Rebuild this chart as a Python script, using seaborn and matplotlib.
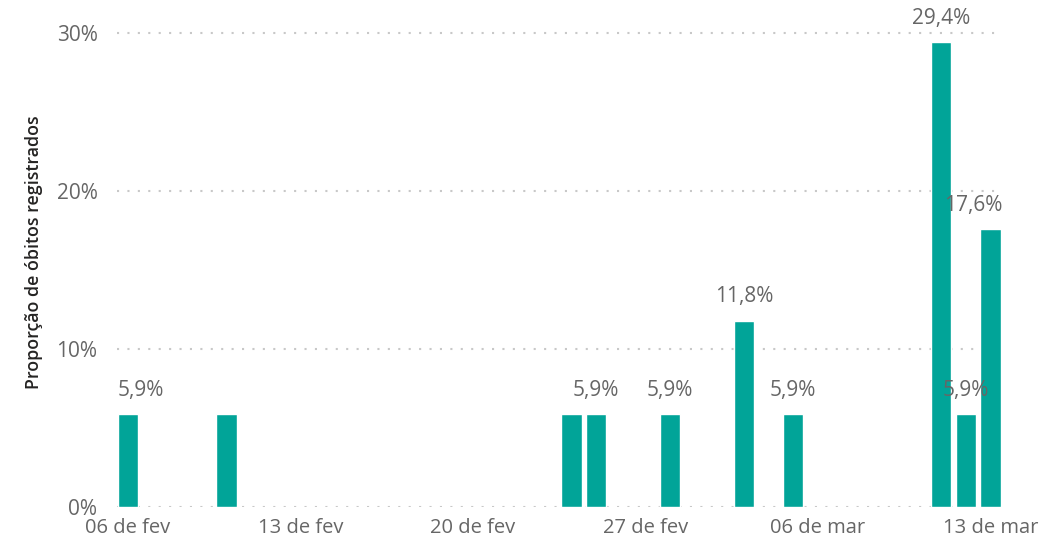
import pandas as pd
import numpy as np
import seaborn as sns
import matplotlib
matplotlib.use('Agg')
import matplotlib.pyplot as plt
import matplotlib.dates as mdates

# dates with recorded deaths and the share of each (in %)
datas = ["2021-02-06", "2021-02-10", "2021-02-24", "2021-02-25", "2021-02-28",
         "2021-03-03", "2021-03-05", "2021-03-11", "2021-03-12", "2021-03-13"]
proporcao = [5.9, 5.9, 5.9, 5.9, 5.9, 11.8, 5.9, 29.4, 5.9, 17.6]
# which bars get a data label (the others were hidden in the original)
mostrar_rotulo = [True, False, False, True, True, True, True, True, True, True]

# x axis ticks
tick_datas = ["2021-02-06", "2021-02-13", "2021-02-20", "2021-02-27", "2021-03-06", "2021-03-13"]
tick_labels = ["06 de fev", "13 de fev", "20 de fev", "27 de fev", "06 de mar", "13 de mar"]
y_ticks = [0, 10, 20, 30]
y_tick_labels = ["0%", "10%", "20%", "30%"]

df = pd.DataFrame({"data": pd.to_datetime(datas), "proporcao": proporcao})
df["x"] = mdates.date2num(df["data"])

sns.set_style("white")
plt.rcParams['font.family'] = ['Open Sans', 'DejaVu Sans']

cor = "#01A498"
cinza = "#666666"

fig = plt.figure(figsize=(10.59, 5.39), dpi=100)
ax = fig.add_axes([0.1104, 0.0594, 0.8353, 0.9087])

sns.barplot(data=df, x="x", y="proporcao", native_scale=True, color=cor,
            saturation=1, width=0.82, ax=ax, zorder=2)

# dotted gridlines (behind bars)
for v in y_ticks:
    ax.axhline(v, color="#C8C8C8", lw=1.5, ls=(0, (1, 4)), zorder=1)

x0 = df["x"].iloc[0]
ax.set_xlim(x0 - 0.45, x0 + 35.45)
ax.set_ylim(0, 31)

ax.set_xticks(mdates.date2num(pd.to_datetime(tick_datas)))
ax.set_xticklabels(tick_labels)
ax.set_yticks(y_ticks)
ax.set_yticklabels(y_tick_labels)
ax.tick_params(axis="x", length=0, pad=8, labelsize=14.5, labelcolor=cinza)
ax.tick_params(axis="y", length=0, pad=14, labelsize=15, labelcolor=cinza)
for lbl in ax.get_yticklabels():
    lbl.set_va("center_baseline")

ax.set_xlabel("")
ax.set_ylabel("Proporção de óbitos registrados", fontsize=12.8, color="#252423",
              fontweight="semibold")
ax.yaxis.set_label_coords(-0.084, 0.52)

for s in ax.spines.values():
    s.set_visible(False)

# data labels
n = len(df)
for i, (x, v, show) in enumerate(zip(df["x"], df["proporcao"], mostrar_rotulo)):
    if not show:
        continue
    texto = f"{v:.1f}%".replace(".", ",")
    ha = "center"
    xx = x
    if i == 0:
        ha, xx = "left", x - 0.42
    elif i == n - 1:
        ha, xx = "right", x + 0.5
    ax.annotate(texto, (xx, v), xytext=(0, 17), textcoords="offset points",
                ha=ha, va="center", fontsize=15, color=cinza,
                annotation_clip=False)

fig.savefig("out.png", dpi=100)
